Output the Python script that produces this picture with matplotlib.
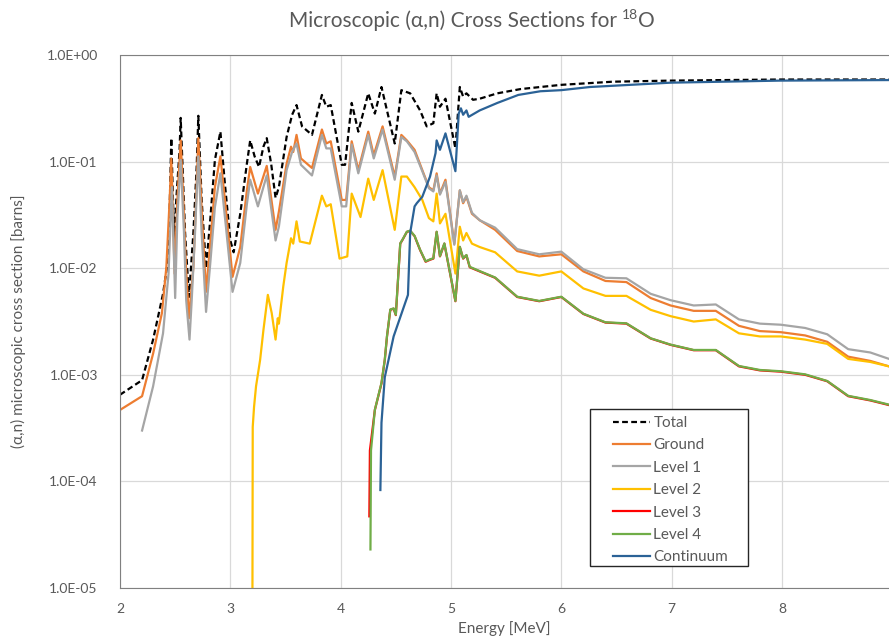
import matplotlib
matplotlib.use("Agg")
import matplotlib.pyplot as plt
from matplotlib.patches import Rectangle
import numpy as np

plt.rcParams['font.family'] = ['Lato', 'DejaVu Sans']

# ---------------- data (energy in MeV, cross section in barns) ----------------
total_E = [2.0, 2.2, 2.30, 2.39, 2.44, 2.465, 2.49, 2.51, 2.54, 2.55, 2.59, 2.625,
           2.665, 2.695, 2.71, 2.74, 2.78, 2.82, 2.86, 2.91, 2.95, 3.00, 3.03, 3.07,
           3.09, 3.15, 3.18, 3.22, 3.26, 3.30, 3.33, 3.37, 3.41, 3.44, 3.51, 3.56,
           3.60, 3.65, 3.74, 3.83, 3.87, 3.91, 4.01, 4.04, 4.10, 4.16, 4.25, 4.31,
           4.37, 4.49, 4.55, 4.63, 4.72, 4.78, 4.84, 4.87, 4.90, 4.95, 5.04, 5.08,
           5.11, 5.14, 5.20, 5.26, 5.42, 5.63, 6.0, 6.47, 6.99, 7.98, 8.97]
total_S = [6.5e-4, 8.9e-4, 2.14e-3, 5.75e-3, 0.0129, 0.166, 0.0182, 0.0437, 0.129, 0.257, 0.0214, 5.37e-3,
           0.0214, 0.0891, 0.269, 0.0437, 0.0100, 0.0302, 0.1035, 0.191, 0.0631, 0.0182, 0.0141, 0.0245,
           0.0324, 0.0955, 0.158, 0.112, 0.0891, 0.138, 0.166, 0.0955, 0.0457, 0.0575, 0.170, 0.275,
           0.339, 0.214, 0.178, 0.422, 0.327, 0.339, 0.0933, 0.0933, 0.355, 0.191, 0.437, 0.282,
           0.501, 0.148, 0.468, 0.437, 0.302, 0.214, 0.229, 0.437, 0.327, 0.389, 0.133, 0.501,
           0.407, 0.437, 0.380, 0.389, 0.437, 0.479, 0.525, 0.562, 0.575, 0.589, 0.589]

ground_E = [2.0, 2.2, 2.30, 2.38, 2.42, 2.45, 2.465, 2.495, 2.52, 2.55, 2.574, 2.598,
            2.625, 2.665, 2.69, 2.71, 2.743, 2.78, 2.82, 2.86, 2.91, 2.96, 3.02, 3.09,
            3.15, 3.18, 3.25, 3.33, 3.41, 3.44, 3.51, 3.55, 3.57, 3.60, 3.64, 3.74,
            3.83, 3.87, 3.91, 4.01, 4.05, 4.10, 4.16, 4.25, 4.30, 4.38, 4.49, 4.55,
            4.60, 4.67, 4.74, 4.80, 4.84, 4.87, 4.90, 4.95, 5.03, 5.08, 5.11, 5.14,
            5.19, 5.26, 5.40, 5.60, 5.80, 6.0, 6.2, 6.4, 6.59, 6.81, 6.99, 7.2,
            7.4, 7.61, 7.8, 7.99, 8.21, 8.41, 8.6, 8.8, 8.97]
ground_S = [4.68e-4, 6.3e-4, 1.58e-3, 3.8e-3, 0.0102, 0.0437, 0.107, 8.9e-3, 0.0437, 0.158, 0.0437, 0.0102,
            3.39e-3, 0.0102, 0.0437, 0.166, 0.0302, 6.0e-3, 0.0182, 0.0575, 0.112, 0.0355, 8.3e-3, 0.0158,
            0.0537, 0.0891, 0.0501, 0.0912, 0.0229, 0.0339, 0.0955, 0.138, 0.123, 0.178, 0.107, 0.0871,
            0.200, 0.148, 0.155, 0.0437, 0.0437, 0.155, 0.0832, 0.191, 0.115, 0.214, 0.0724, 0.178,
            0.158, 0.129, 0.0832, 0.0575, 0.0537, 0.0776, 0.0501, 0.0676, 0.0170, 0.0537, 0.0407, 0.0468,
            0.0324, 0.0282, 0.0229, 0.0145, 0.0129, 0.0135, 9.33e-3, 7.59e-3, 7.41e-3, 5.25e-3, 4.47e-3, 3.98e-3,
            3.98e-3, 2.88e-3, 2.57e-3, 2.51e-3, 2.34e-3, 2.04e-3, 1.48e-3, 1.35e-3, 1.20e-3]

level1_E = [2.2, 2.30, 2.39, 2.44, 2.47, 2.50, 2.52, 2.55, 2.58, 2.60, 2.63, 2.65,
            2.68, 2.71, 2.74, 2.78, 2.82, 2.86, 2.91, 2.96, 3.02, 3.09, 3.15, 3.18,
            3.25, 3.33, 3.41, 3.44, 3.51, 3.56, 3.60, 3.64, 3.74, 3.83, 3.87, 3.91,
            4.01, 4.05, 4.10, 4.16, 4.25, 4.30, 4.38, 4.49, 4.55, 4.60, 4.67, 4.74,
            4.80, 4.84, 4.87, 4.90, 4.95, 5.03, 5.08, 5.11, 5.14, 5.19, 5.26, 5.40,
            5.60, 5.80, 6.0, 6.2, 6.4, 6.59, 6.81, 6.99, 7.2, 7.4, 7.61, 7.8,
            7.99, 8.21, 8.41, 8.6, 8.8, 8.97]
level1_S = [3.0e-4, 7.8e-4, 2.45e-3, 8.9e-3, 0.0575, 5.25e-3, 0.0302, 0.1035, 0.0214, 5.0e-3, 2.14e-3, 5.0e-3,
            0.0214, 0.112, 0.0214, 3.89e-3, 0.0117, 0.0372, 0.0776, 0.0245, 6.0e-3, 0.0112, 0.0398, 0.0676,
            0.0380, 0.0741, 0.0182, 0.0245, 0.0832, 0.123, 0.148, 0.0933, 0.0741, 0.178, 0.133, 0.133,
            0.0380, 0.0380, 0.145, 0.0776, 0.178, 0.107, 0.200, 0.0676, 0.170, 0.155, 0.123, 0.0813,
            0.0562, 0.0525, 0.0741, 0.0490, 0.0646, 0.0166, 0.0537, 0.0417, 0.0479, 0.0331, 0.0282, 0.0240,
            0.0151, 0.0135, 0.0143, 9.77e-3, 8.13e-3, 8.04e-3, 5.75e-3, 5.01e-3, 4.47e-3, 4.57e-3, 3.31e-3, 3.02e-3,
            2.95e-3, 2.75e-3, 2.40e-3, 1.74e-3, 1.62e-3, 1.41e-3]

level2_E = [3.20, 3.203, 3.215, 3.233, 3.27, 3.30, 3.34, 3.375, 3.41, 3.43, 3.44, 3.48,
            3.51, 3.55, 3.57, 3.60, 3.63, 3.72, 3.83, 3.87, 3.91, 3.99, 4.06, 4.10,
            4.18, 4.25, 4.30, 4.38, 4.49, 4.55, 4.60, 4.67, 4.74, 4.80, 4.84, 4.87,
            4.90, 4.95, 5.04, 5.08, 5.11, 5.14, 5.19, 5.26, 5.40, 5.60, 5.80, 6.0,
            6.2, 6.4, 6.59, 6.81, 6.99, 7.2, 7.4, 7.61, 7.8, 7.99, 8.21, 8.41,
            8.6, 8.8, 8.97]
level2_S = [5.0e-6, 3.24e-4, 5.0e-4, 7.8e-4, 1.38e-3, 2.63e-3, 5.62e-3, 3.8e-3, 2.14e-3, 3.39e-3, 3.02e-3, 6.76e-3,
            0.0112, 0.0191, 0.0170, 0.0275, 0.0178, 0.0170, 0.0479, 0.0380, 0.0398, 0.0123, 0.0129, 0.0501,
            0.0302, 0.0692, 0.0437, 0.0832, 0.0229, 0.0724, 0.0724, 0.0575, 0.0437, 0.0295, 0.0275, 0.0501,
            0.0263, 0.0324, 8.91e-3, 0.0245, 0.0182, 0.0214, 0.0170, 0.0158, 0.0141, 9.33e-3, 8.51e-3, 9.33e-3,
            6.46e-3, 5.50e-3, 5.50e-3, 4.07e-3, 3.55e-3, 3.16e-3, 3.31e-3, 2.45e-3, 2.29e-3, 2.29e-3, 2.14e-3, 1.95e-3,
            1.41e-3, 1.32e-3, 1.20e-3]

level3_E = [4.26, 4.265, 4.31, 4.37, 4.40, 4.42, 4.45, 4.48, 4.50, 4.54, 4.56, 4.60,
            4.63, 4.67, 4.72, 4.77, 4.81, 4.84, 4.87, 4.90, 4.94, 5.04, 5.08, 5.11,
            5.14, 5.17, 5.26, 5.40, 5.60, 5.80, 6.0, 6.2, 6.4, 6.59, 6.81, 6.99,
            7.2, 7.4, 7.61, 7.8, 7.99, 8.21, 8.41, 8.6, 8.8, 8.97]
level3_S = [4.7e-5, 1.95e-4, 4.68e-4, 8.3e-4, 1.38e-3, 2.29e-3, 4.07e-3, 4.17e-3, 3.63e-3, 0.0170, 0.0184, 0.0219,
            0.0224, 0.0200, 0.0148, 0.0115, 0.0120, 0.0123, 0.0219, 0.0129, 0.0170, 4.90e-3, 0.0158, 0.0123,
            0.0132, 0.0102, 9.33e-3, 8.13e-3, 5.37e-3, 4.90e-3, 5.37e-3, 3.72e-3, 3.09e-3, 3.02e-3, 2.19e-3, 1.91e-3,
            1.70e-3, 1.70e-3, 1.20e-3, 1.10e-3, 1.07e-3, 1.00e-3, 8.7e-4, 6.3e-4, 5.75e-4, 5.2e-4]

level4_E = [4.27, 4.275, 4.31, 4.37, 4.40, 4.42, 4.45, 4.48, 4.50, 4.54, 4.56, 4.60,
            4.63, 4.67, 4.72, 4.77, 4.81, 4.84, 4.87, 4.90, 4.94, 5.04, 5.08, 5.11,
            5.14, 5.17, 5.26, 5.40, 5.60, 5.80, 6.0, 6.2, 6.4, 6.59, 6.81, 6.99,
            7.2, 7.4, 7.61, 7.8, 7.99, 8.21, 8.41, 8.6, 8.8, 8.97]
level4_S = [2.3e-5, 1.95e-4, 4.7e-4, 8.4e-4, 1.39e-3, 2.31e-3, 4.1e-3, 4.2e-3, 3.66e-3, 0.0171, 0.0185, 0.0220,
            0.0225, 0.0201, 0.0149, 0.0116, 0.0121, 0.0124, 0.0220, 0.0130, 0.0171, 4.93e-3, 0.0159, 0.0124,
            0.0133, 0.0103, 9.4e-3, 8.18e-3, 5.4e-3, 4.93e-3, 5.4e-3, 3.74e-3, 3.11e-3, 3.04e-3, 2.2e-3, 1.92e-3,
            1.71e-3, 1.71e-3, 1.21e-3, 1.11e-3, 1.08e-3, 1.01e-3, 8.75e-4, 6.35e-4, 5.8e-4, 5.25e-4]

cont_E = [4.36, 4.37, 4.40, 4.48, 4.61, 4.63, 4.67, 4.69, 4.74, 4.81, 4.86, 4.87,
          4.90, 4.95, 5.04, 5.07, 5.09, 5.11, 5.14, 5.16, 5.26, 5.42, 5.61, 5.81,
          6.0, 6.26, 6.99, 7.98, 8.97]
cont_S = [8.3e-5, 3.55e-4, 9.5e-4, 2.29e-3, 5.62e-3, 0.0214, 0.0380, 0.0407, 0.0468, 0.0724, 0.120, 0.158,
          0.129, 0.184, 0.0813, 0.282, 0.316, 0.275, 0.302, 0.263, 0.302, 0.355, 0.422, 0.457,
          0.468, 0.501, 0.550, 0.575, 0.582]

series = [
    ("Total", total_E, total_S, "#000000", (0, (2.6, 1.5))),
    ("Ground", ground_E, ground_S, "#ED7D31", "-"),
    ("Level 1", level1_E, level1_S, "#A5A5A5", "-"),
    ("Level 2", level2_E, level2_S, "#FFC000", "-"),
    ("Level 3", level3_E, level3_S, "#FF0000", "-"),
    ("Level 4", level4_E, level4_S, "#70AD47", "-"),
    ("Continuum", cont_E, cont_S, "#2B6296", "-"),
]

x_ticks = [2, 3, 4, 5, 6, 7, 8]
y_ticks = [1e-5, 1e-4, 1e-3, 1e-2, 1e-1, 1e0]
y_tick_labels = ["1.0E-05", "1.0E-04", "1.0E-03", "1.0E-02", "1.0E-01", "1.0E+00"]

# ---------------- figure ----------------
W, H = 889, 637
fig = plt.figure(figsize=(W / 100, H / 100), dpi=100)
ax = fig.add_axes([120 / W, 1 - 588 / H, (889 - 120) / W, (588 - 55) / H])

txt_col = "#595959"
for name, e, s, c, ls in series:
    ax.plot(e, s, color=c, linestyle=ls, lw=1.6, label=name,
            solid_joinstyle='round', dash_joinstyle='round')

ax.set_yscale("log")
ax.set_xlim(2, 8.97)
ax.set_ylim(1e-5, 1e0)
ax.set_xticks(x_ticks)
ax.set_xticklabels([str(t) for t in x_ticks])
ax.set_yticks(y_ticks)
ax.set_yticklabels(y_tick_labels)
ax.yaxis.set_minor_locator(matplotlib.ticker.NullLocator())
ax.tick_params(axis='both', length=0, colors=txt_col, labelsize=10)
ax.tick_params(axis='y', pad=16)
ax.tick_params(axis='x', pad=11)
ax.grid(True, color="#D9D9D9", lw=0.9)
ax.set_axisbelow(True)

for side in ["top", "left", "bottom"]:
    ax.spines[side].set_linestyle((0, (1, 1)))
    ax.spines[side].set_color("#808080")
    ax.spines[side].set_linewidth(0.8)
ax.spines["right"].set_visible(False)

ax.set_xlabel("Energy [MeV]", color=txt_col, fontsize=11, labelpad=4)
ax.set_ylabel("(α,n) microscopic cross section [barns]", color=txt_col, fontsize=11, labelpad=15)

# legend with separate frame
frame = Rectangle(((590 - 120) / 769, (588 - 566) / 533), (748 - 590) / 769, (566 - 409) / 533,
                  transform=ax.transAxes, facecolor="white", edgecolor="#262626", lw=1.0, zorder=5)
ax.add_patch(frame)
leg = ax.legend(loc="upper left",
                bbox_to_anchor=((613 - 120) / 769, (588 - 416) / 533),
                frameon=False, fontsize=11, handlelength=2.4, handletextpad=0.25,
                labelspacing=0.55, borderpad=0, borderaxespad=0)
leg.set_zorder(6)
for t in leg.get_texts():
    t.set_color(txt_col)

# title with superscript
fig.canvas.draw()
r = fig.canvas.get_renderer()
ty = 1 - 27 / H
t1 = fig.text(0, ty, "Microscopic (α,n) Cross Sections for", fontsize=15, color=txt_col, va="baseline")
t2 = fig.text(0, ty, "18", fontsize=10, color=txt_col, va="baseline")
t3 = fig.text(0, ty, "O", fontsize=15, color=txt_col, va="baseline")
w1 = t1.get_window_extent(r).width
w2 = t2.get_window_extent(r).width
w3 = t3.get_window_extent(r).width
gap = 5
total_w = w1 + gap + w2 + w3
x0 = 472 - total_w / 2
t1.set_x(x0 / W)
t2.set_x((x0 + w1 + gap) / W)
t2.set_y(ty + 8 / H)
t3.set_x((x0 + w1 + gap + w2) / W)

fig.savefig("out.png", dpi=100)
